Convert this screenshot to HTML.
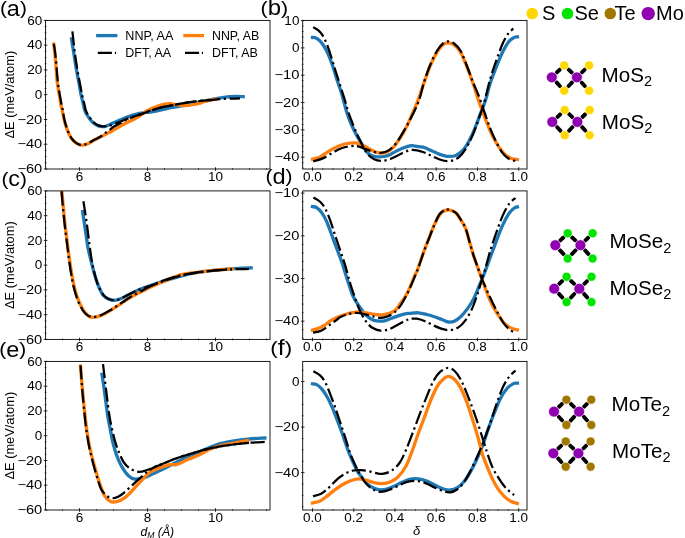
<!DOCTYPE html>
<html><head><meta charset="utf-8"><title>figure</title>
<style>html,body{margin:0;padding:0;background:#fff;}svg{display:block;will-change:transform;}text{font-family:"Liberation Sans", sans-serif;fill:#000;}</style>
</head><body>
<svg width="685" height="538" viewBox="0 0 685 538">
<rect width="685" height="538" fill="#fff"/>
<clipPath id="clip_a"><rect x="45.6" y="20.4" width="224.4" height="148.6"/></clipPath>
<clipPath id="clip_c"><rect x="45.6" y="190.9" width="224.4" height="148.5"/></clipPath>
<clipPath id="clip_e"><rect x="45.6" y="361.4" width="224.4" height="148.6"/></clipPath>
<clipPath id="clip_b"><rect x="302.7" y="20.4" width="224.3" height="148.6"/></clipPath>
<clipPath id="clip_d"><rect x="302.7" y="190.9" width="224.3" height="148.5"/></clipPath>
<clipPath id="clip_f"><rect x="302.7" y="361.4" width="224.3" height="148.6"/></clipPath>
<path d="M71.5 38.9C71.88 41.27 72.97 47.92 73.8 53.1C74.63 58.28 75.58 64.68 76.5 70C77.42 75.32 78.53 80.83 79.3 85C80.07 89.17 80.4 91.67 81.1 95C81.8 98.33 82.92 102.5 83.5 105C84.08 107.5 84.05 108.42 84.6 110C85.15 111.58 85.93 113.02 86.8 114.5C87.67 115.98 88.68 117.48 89.8 118.9C90.92 120.32 92.15 121.88 93.5 123C94.85 124.12 96.42 125 97.9 125.6C99.38 126.2 101.03 126.5 102.4 126.6C103.77 126.7 104.43 126.77 106.1 126.2C107.77 125.63 110.1 124.22 112.4 123.2C114.7 122.18 117.42 121.13 119.9 120.1C122.38 119.07 124.82 117.93 127.3 117C129.78 116.07 132.57 115.13 134.8 114.5C137.03 113.87 138.72 113.55 140.7 113.2C142.68 112.85 145.15 112.57 146.7 112.4C148.25 112.23 148.23 112.47 150 112.2C151.77 111.93 154.87 111.32 157.3 110.8C159.73 110.28 162.17 109.65 164.6 109.1C167.03 108.55 169.72 107.92 171.9 107.5C174.08 107.08 174.68 107.15 177.7 106.6C180.72 106.05 185.78 105.08 190 104.2C194.22 103.32 199.5 102.07 203 101.3C206.5 100.53 208.58 100.08 211 99.6C213.42 99.12 214.82 98.85 217.5 98.4C220.18 97.95 224.15 97.22 227.1 96.9C230.05 96.58 232.52 96.53 235.2 96.5C237.88 96.47 241.87 96.67 243.2 96.7" fill="none" stroke="#1f77b4" stroke-width="3.3" stroke-linecap="square" stroke-linejoin="round" clip-path="url(#clip_a)"/>
<path d="M53.8 44C53.97 45.52 54.45 49.6 54.8 53.1C55.15 56.6 55.62 61.35 55.9 65C56.18 68.65 56.22 71.67 56.5 75C56.78 78.33 57.13 81.67 57.6 85C58.07 88.33 58.73 91.67 59.3 95C59.87 98.33 60.52 102.5 61 105C61.48 107.5 61.68 107.55 62.2 110C62.72 112.45 63.42 116.85 64.1 119.7C64.78 122.55 65.5 124.75 66.3 127.1C67.1 129.45 67.97 131.82 68.9 133.8C69.83 135.78 70.78 137.52 71.9 139C73.02 140.48 74.23 141.7 75.6 142.7C76.97 143.7 78.73 144.62 80.1 145C81.47 145.38 82.43 145.25 83.8 145C85.17 144.75 86.82 144.18 88.3 143.5C89.78 142.82 91.22 141.72 92.7 140.9C94.18 140.08 95.7 139.35 97.2 138.6C98.7 137.85 100.4 137.07 101.7 136.4C103 135.73 103.22 135.55 105 134.6C106.78 133.65 109.92 132.08 112.4 130.7C114.88 129.32 117.42 127.67 119.9 126.3C122.38 124.93 124.82 123.75 127.3 122.5C129.78 121.25 132.57 120.03 134.8 118.8C137.03 117.57 138.72 116.4 140.7 115.1C142.68 113.8 145.15 111.97 146.7 111C148.25 110.03 148.23 110.1 150 109.3C151.77 108.5 154.87 107.08 157.3 106.2C159.73 105.32 162.42 104.42 164.6 104C166.78 103.58 168.45 103.6 170.4 103.7C172.35 103.8 174.35 104.3 176.3 104.6C178.25 104.9 180.15 105.38 182.1 105.5C184.05 105.62 186.05 105.47 188 105.3C189.95 105.13 191.8 104.87 193.8 104.5C195.8 104.13 198.47 103.53 200 103.1C201.53 102.67 201.15 102.43 203 101.9C204.85 101.37 209.02 100.35 211.1 99.9C213.18 99.45 214.77 99.32 215.5 99.2" fill="none" stroke="#ff7f0e" stroke-width="3.3" stroke-linecap="square" stroke-linejoin="round" clip-path="url(#clip_a)"/>
<path d="M72.4 31.3C72.82 34.93 74.07 46.65 74.9 53.1C75.73 59.55 76.52 64.68 77.4 70C78.28 75.32 79.42 80.83 80.2 85C80.98 89.17 81.37 91.67 82.1 95C82.83 98.33 84 102.5 84.6 105C85.2 107.5 85.12 108.33 85.7 110C86.28 111.67 86.92 113.08 88.1 115C89.28 116.92 91.17 119.78 92.8 121.5C94.43 123.22 96.3 124.5 97.9 125.3C99.5 126.1 101.03 126.18 102.4 126.3C103.77 126.42 104.67 126.18 106.1 126C107.53 125.82 108.7 125.9 111 125.2C113.3 124.5 117.18 122.87 119.9 121.8C122.62 120.73 124.82 119.77 127.3 118.8C129.78 117.83 132.57 116.75 134.8 116C137.03 115.25 138.72 114.95 140.7 114.3C142.68 113.65 145.15 112.68 146.7 112.1C148.25 111.52 148.23 111.38 150 110.8C151.77 110.22 154.87 109.3 157.3 108.6C159.73 107.9 162.17 107.15 164.6 106.6C167.03 106.05 169.47 105.75 171.9 105.3C174.33 104.85 176.77 104.35 179.2 103.9C181.63 103.45 184.07 103 186.5 102.6C188.93 102.2 191.05 101.87 193.8 101.5C196.55 101.13 200.12 100.67 203 100.4C205.88 100.13 208.42 100.1 211.1 99.9C213.78 99.7 216.43 99.4 219.1 99.2C221.77 99 224.55 98.8 227.1 98.7C229.65 98.6 232.25 98.67 234.4 98.6C236.55 98.53 239.07 98.35 240 98.3" fill="none" stroke="#000" stroke-width="2.25" stroke-dasharray="14.2 3.56 2.22 3.56" stroke-linejoin="round" clip-path="url(#clip_a)"/>
<path d="M53.8 43.8C54.03 45.35 54.77 49.57 55.2 53.1C55.63 56.63 56.07 61.35 56.4 65C56.73 68.65 56.9 71.67 57.2 75C57.5 78.33 57.77 81.67 58.2 85C58.63 88.33 59.23 91.67 59.8 95C60.37 98.33 61.12 102.5 61.6 105C62.08 107.5 62.23 107.55 62.7 110C63.17 112.45 63.77 116.85 64.4 119.7C65.03 122.55 65.72 124.75 66.5 127.1C67.28 129.45 68.17 131.82 69.1 133.8C70.03 135.78 70.98 137.52 72.1 139C73.22 140.48 74.47 141.73 75.8 142.7C77.13 143.67 78.77 144.45 80.1 144.8C81.43 145.15 82.43 145.05 83.8 144.8C85.17 144.55 86.82 143.98 88.3 143.3C89.78 142.62 91.22 141.52 92.7 140.7C94.18 139.88 95.7 139.23 97.2 138.4C98.7 137.57 100.22 136.72 101.7 135.7C103.18 134.68 104.72 133.3 106.1 132.3C107.48 131.3 108.68 130.67 110 129.7C111.32 128.73 112.35 127.57 114 126.5C115.65 125.43 117.68 124.5 119.9 123.3C122.12 122.1 124.82 120.47 127.3 119.3C129.78 118.13 132.57 117.12 134.8 116.3C137.03 115.48 138.72 115.1 140.7 114.4C142.68 113.7 145.15 112.7 146.7 112.1C148.25 111.5 148.23 111.38 150 110.8C151.77 110.22 154.87 109.3 157.3 108.6C159.73 107.9 162.17 107.15 164.6 106.6C167.03 106.05 169.47 105.75 171.9 105.3C174.33 104.85 176.77 104.35 179.2 103.9C181.63 103.45 184.07 102.98 186.5 102.6C188.93 102.22 191.55 101.87 193.8 101.6C196.05 101.33 198.13 101.18 200 101C201.87 100.82 203 100.67 205 100.5C207 100.33 210.83 100.08 212 100" fill="none" stroke="#000" stroke-width="2.25" stroke-dasharray="14.2 3.56 2.22 3.56" stroke-linejoin="round" clip-path="url(#clip_a)"/>
<path d="M312.5 37.5C312.98 37.55 314.17 37.25 315.4 37.8C316.63 38.35 318.42 39.32 319.9 40.8C321.38 42.28 322.82 44.23 324.3 46.7C325.78 49.17 327.32 52.13 328.8 55.6C330.28 59.07 331.85 63.53 333.2 67.5C334.55 71.47 335.53 75.18 336.9 79.4C338.27 83.62 339.73 87.25 341.4 92.8C343.07 98.35 345.17 107.25 346.9 112.7C348.63 118.15 350.18 121.77 351.8 125.5C353.42 129.23 355 132.15 356.6 135.1C358.2 138.05 359.8 140.52 361.4 143.2C363 145.88 364.6 149.2 366.2 151.2C367.8 153.2 369.13 154.27 371 155.2C372.87 156.13 375.25 156.58 377.4 156.8C379.55 157.02 381.75 156.9 383.9 156.5C386.05 156.1 388.17 155.33 390.3 154.4C392.43 153.47 394.57 151.97 396.7 150.9C398.83 149.83 400.68 148.88 403.1 148C405.52 147.12 409.22 145.92 411.2 145.6C413.18 145.28 413.03 145.83 415 146.1C416.97 146.37 420.32 146.48 423 147.2C425.68 147.92 428.42 149.25 431.1 150.4C433.78 151.55 436.43 153.12 439.1 154.1C441.77 155.08 444.43 156.03 447.1 156.3C449.77 156.57 452.68 156.5 455.1 155.7C457.52 154.9 459.72 153.18 461.6 151.5C463.48 149.82 464.8 148.05 466.4 145.6C468 143.15 469.6 140.15 471.2 136.8C472.8 133.45 474.4 129.52 476 125.5C477.6 121.48 479.18 116.98 480.8 112.7C482.42 108.42 484.15 104.67 485.7 99.8C487.25 94.93 488.32 89.03 490.1 83.5C491.88 77.97 494.28 71.88 496.4 66.6C498.52 61.32 500.68 56.03 502.8 51.8C504.92 47.57 507.17 43.6 509.1 41.2C511.03 38.8 513.02 38.12 514.4 37.4C515.78 36.68 516.9 36.98 517.4 36.9" fill="none" stroke="#1f77b4" stroke-width="3.3" stroke-linecap="square" stroke-linejoin="round" clip-path="url(#clip_b)"/>
<path d="M312.5 159.2C313.68 158.87 316.8 158.58 319.6 157.2C322.4 155.82 326.08 152.77 329.3 150.9C332.52 149.03 335.97 147.23 338.9 146C341.83 144.77 344.22 144.02 346.9 143.5C349.58 142.98 352.58 142.73 355 142.9C357.42 143.07 359.27 143.65 361.4 144.5C363.53 145.35 365.67 146.83 367.8 148C369.93 149.17 372.05 150.65 374.2 151.5C376.35 152.35 378.55 153.02 380.7 153.1C382.85 153.18 384.97 152.98 387.1 152C389.23 151.02 391.37 149.47 393.5 147.2C395.63 144.93 397.75 141.75 399.9 138.4C402.05 135.05 404.25 131.38 406.4 127.1C408.55 122.82 410.85 117.22 412.8 112.7C414.75 108.18 416.15 105.22 418.1 100C420.05 94.78 422.38 87.32 424.5 81.4C426.62 75.48 428.68 69.43 430.8 64.5C432.92 59.57 435.08 55.17 437.2 51.8C439.32 48.43 441.57 45.78 443.5 44.3C445.43 42.82 447.03 42.78 448.8 42.9C450.57 43.02 452.17 43.52 454.1 45C456.03 46.48 458.28 48.2 460.4 51.8C462.52 55.4 464.68 61.32 466.8 66.6C468.92 71.88 471.17 77.93 473.1 83.5C475.03 89.07 476.85 95.4 478.4 100C479.95 104.6 480.92 107.12 482.4 111.1C483.88 115.08 485.68 119.9 487.3 123.9C488.92 127.9 490.23 131.35 492.1 135.1C493.97 138.85 496.37 143.18 498.5 146.4C500.63 149.62 502.75 152.4 504.9 154.4C507.05 156.4 509.32 157.53 511.4 158.4C513.48 159.27 516.4 159.4 517.4 159.6" fill="none" stroke="#ff7f0e" stroke-width="3.3" stroke-linecap="square" stroke-linejoin="round" clip-path="url(#clip_b)"/>
<path d="M313.2 27.1C314.07 27.65 316.8 28.98 318.4 30.4C320 31.82 321.32 33.13 322.8 35.6C324.28 38.07 325.82 41.37 327.3 45.2C328.78 49.03 330.35 54.38 331.7 58.6C333.05 62.82 334.15 66.53 335.4 70.5C336.65 74.47 337.63 77.5 339.2 82.4C340.77 87.3 343.25 94.85 344.8 99.9C346.35 104.95 347.07 108.43 348.5 112.7C349.93 116.97 351.78 121.48 353.4 125.5C355.02 129.52 356.6 133.32 358.2 136.8C359.8 140.28 361.4 143.47 363 146.4C364.6 149.33 365.93 152.27 367.8 154.4C369.67 156.53 372.05 158.13 374.2 159.2C376.35 160.27 378.28 160.73 380.7 160.8C383.12 160.87 386.03 160.4 388.7 159.6C391.37 158.8 394.03 157.27 396.7 156C399.37 154.73 402.02 153.02 404.7 152C407.38 150.98 409.75 149.9 412.8 149.9C415.85 149.9 419.95 151.03 423 152C426.05 152.97 428.42 154.5 431.1 155.7C433.78 156.9 436.43 158.28 439.1 159.2C441.77 160.12 444.43 161.13 447.1 161.2C449.77 161.27 452.68 160.73 455.1 159.6C457.52 158.47 459.45 156.87 461.6 154.4C463.75 151.93 465.87 148.68 468 144.8C470.13 140.92 472.53 135.65 474.4 131.1C476.27 126.55 477.58 122.18 479.2 117.5C480.82 112.82 482.28 109.37 484.1 103C485.92 96.63 488.05 86.43 490.1 79.3C492.15 72.17 494.28 66.2 496.4 60.2C498.52 54.2 500.85 47.7 502.8 43.3C504.75 38.9 506.33 36.27 508.1 33.8C509.87 31.33 512.52 29.38 513.4 28.5" fill="none" stroke="#000" stroke-width="2.25" stroke-dasharray="14.2 3.56 2.22 3.56" stroke-linejoin="round" clip-path="url(#clip_b)"/>
<path d="M313.2 161.3C314.8 160.82 319.58 159.82 322.8 158.4C326.02 156.98 329.28 154.53 332.5 152.8C335.72 151.07 338.88 149.12 342.1 148C345.32 146.88 349.12 146.37 351.8 146.1C354.48 145.83 355.8 145.87 358.2 146.4C360.6 146.93 363.53 148.37 366.2 149.3C368.87 150.23 371.78 151.42 374.2 152C376.62 152.58 378.28 153.07 380.7 152.8C383.12 152.53 386.03 152.13 388.7 150.4C391.37 148.67 394.03 145.88 396.7 142.4C399.37 138.92 402.02 134.18 404.7 129.5C407.38 124.82 410.38 119.25 412.8 114.3C415.22 109.35 417.25 105.43 419.2 99.8C421.15 94.17 422.57 86.55 424.5 80.5C426.43 74.45 428.68 68.5 430.8 63.5C432.92 58.5 435.08 53.92 437.2 50.5C439.32 47.08 441.57 44.52 443.5 43C445.43 41.48 447.03 41.32 448.8 41.4C450.57 41.48 452.17 41.98 454.1 43.5C456.03 45.02 458.28 46.83 460.4 50.5C462.52 54.17 464.68 60.17 466.8 65.5C468.92 70.83 471.17 77.58 473.1 82.5C475.03 87.42 476.57 90.23 478.4 95C480.23 99.77 482.22 105.75 484.1 111.1C485.98 116.45 487.83 122.28 489.7 127.1C491.57 131.92 493.3 135.88 495.3 140C497.3 144.12 499.57 148.75 501.7 151.8C503.83 154.85 505.68 156.73 508.1 158.3C510.52 159.87 514.85 160.72 516.2 161.2" fill="none" stroke="#000" stroke-width="2.25" stroke-dasharray="14.2 3.56 2.22 3.56" stroke-linejoin="round" clip-path="url(#clip_b)"/>
<path d="M82.6 211.7C82.97 214.07 84.15 221.52 84.8 225.9C85.45 230.28 85.97 234.32 86.5 238C87.03 241.68 87.32 244.5 88 248C88.68 251.5 89.52 254.63 90.6 259C91.68 263.37 93.18 269.7 94.5 274.2C95.82 278.7 97.05 282.5 98.5 286C99.95 289.5 101.45 292.98 103.2 295.2C104.95 297.42 107.05 298.43 109 299.3C110.95 300.17 112.95 300.5 114.9 300.4C116.85 300.3 118.57 299.57 120.7 298.7C122.83 297.83 125.37 296.37 127.7 295.2C130.03 294.03 132.65 292.68 134.7 291.7C136.75 290.72 136.78 290.52 140 289.3C143.22 288.08 148.5 286.22 154 284.4C159.5 282.58 166.67 280.22 173 278.4C179.33 276.58 185.68 274.8 192 273.5C198.32 272.2 204.58 271.35 210.9 270.6C217.22 269.85 224.88 269.4 229.9 269C234.92 268.6 237.47 268.4 241 268.2C244.53 268 249.42 267.87 251.1 267.8" fill="none" stroke="#1f77b4" stroke-width="3.3" stroke-linecap="square" stroke-linejoin="round" clip-path="url(#clip_c)"/>
<path d="M61.9 191.4C62.35 196.23 63.65 211.47 64.6 220.4C65.55 229.33 66.72 237.98 67.6 245C68.48 252.02 69.03 256.67 69.9 262.5C70.77 268.33 71.92 275.33 72.8 280C73.68 284.67 74.22 287 75.2 290.5C76.18 294 77.33 297.68 78.7 301C80.07 304.32 81.85 307.97 83.4 310.4C84.95 312.83 86.45 314.43 88 315.6C89.55 316.77 90.95 317.27 92.7 317.4C94.45 317.53 96.55 316.98 98.5 316.4C100.45 315.82 102.45 314.87 104.4 313.9C106.35 312.93 108.25 311.77 110.2 310.6C112.15 309.43 113.95 308.3 116.1 306.9C118.25 305.5 120.77 303.77 123.1 302.2C125.43 300.63 127.28 299.15 130.1 297.5C132.92 295.85 136.02 294.3 140 292.3C143.98 290.3 149.5 287.55 154 285.5C158.5 283.45 162.58 281.77 167 280C171.42 278.23 176.33 276.07 180.5 274.9C184.67 273.73 186.93 273.72 192 273C197.07 272.28 204.22 271.3 210.9 270.6C217.58 269.9 228.57 269.1 232.1 268.8" fill="none" stroke="#ff7f0e" stroke-width="3.3" stroke-linecap="square" stroke-linejoin="round" clip-path="url(#clip_c)"/>
<path d="M83.4 201.3C83.73 203.42 84.78 209.9 85.4 214C86.02 218.1 86.58 222.07 87.1 225.9C87.62 229.73 88.03 233.32 88.5 237C88.97 240.68 89.25 243.5 89.9 248C90.55 252.5 91.38 258.83 92.4 264C93.42 269.17 94.82 274.92 96 279C97.18 283.08 98.17 285.75 99.5 288.5C100.83 291.25 102.33 293.7 104 295.5C105.67 297.3 107.6 298.52 109.5 299.3C111.4 300.08 113.48 300.33 115.4 300.2C117.32 300.07 118.95 299.37 121 298.5C123.05 297.63 125.42 296.17 127.7 295C129.98 293.83 132.65 292.45 134.7 291.5C136.75 290.55 136.78 290.45 140 289.3C143.22 288.15 148.5 286.52 154 284.6C159.5 282.68 166.67 279.68 173 277.8C179.33 275.92 185.68 274.47 192 273.3C198.32 272.13 204.58 271.45 210.9 270.8C217.22 270.15 223.57 269.7 229.9 269.4C236.23 269.1 245.73 269.07 248.9 269" fill="none" stroke="#000" stroke-width="2.25" stroke-dasharray="14.2 3.56 2.22 3.56" stroke-linejoin="round" clip-path="url(#clip_c)"/>
<path d="M61.5 191.4C61.95 196.23 63.25 211.47 64.2 220.4C65.15 229.33 66.33 237.98 67.2 245C68.07 252.02 68.57 256.67 69.4 262.5C70.23 268.33 71.33 275.33 72.2 280C73.07 284.67 73.63 287 74.6 290.5C75.57 294 76.63 297.68 78 301C79.37 304.32 81.2 308 82.8 310.4C84.4 312.8 85.95 314.3 87.6 315.4C89.25 316.5 90.88 316.9 92.7 317C94.52 317.1 96.55 316.58 98.5 316C100.45 315.42 102.45 314.47 104.4 313.5C106.35 312.53 108.25 311.37 110.2 310.2C112.15 309.03 113.95 307.88 116.1 306.5C118.25 305.12 120.77 303.45 123.1 301.9C125.43 300.35 127.28 298.88 130.1 297.2C132.92 295.52 136.02 293.93 140 291.8C143.98 289.67 148.5 286.82 154 284.4C159.5 281.98 166.67 279.15 173 277.3C179.33 275.45 185.68 274.38 192 273.3C198.32 272.22 204.57 271.48 210.9 270.8C217.23 270.12 226.82 269.47 230 269.2" fill="none" stroke="#000" stroke-width="2.25" stroke-dasharray="14.2 3.56 2.22 3.56" stroke-linejoin="round" clip-path="url(#clip_c)"/>
<path d="M312.5 206.7C313.2 206.85 315.17 206.62 316.7 207.6C318.23 208.58 320.02 210.23 321.7 212.6C323.38 214.97 325.12 218.03 326.8 221.8C328.48 225.57 330.13 230.73 331.8 235.2C333.47 239.67 335.13 244.13 336.8 248.6C338.47 253.07 340.55 258.43 341.8 262C343.05 265.57 343.2 266.53 344.3 270C345.4 273.47 346.92 278.38 348.4 282.8C349.88 287.22 351.33 292.48 353.2 296.5C355.07 300.52 357.47 303.82 359.6 306.9C361.73 309.98 363.87 312.85 366 315C368.13 317.15 370.25 318.78 372.4 319.8C374.55 320.82 376.75 320.97 378.9 321.1C381.05 321.23 383.17 321.08 385.3 320.6C387.43 320.12 389.57 319 391.7 318.2C393.83 317.4 395.68 316.55 398.1 315.8C400.52 315.05 404.22 314.1 406.2 313.7C408.18 313.3 407.97 313.55 410 313.4C412.03 313.25 415.6 312.62 418.4 312.8C421.2 312.98 424 313.8 426.8 314.5C429.6 315.2 432.68 316.17 435.2 317C437.72 317.83 439.67 318.67 441.9 319.5C444.13 320.33 446.37 321.8 448.6 322C450.83 322.2 453.07 321.82 455.3 320.7C457.53 319.58 459.75 317.6 462 315.3C464.25 313 466.83 309.7 468.8 306.9C470.77 304.1 472.13 301.85 473.8 298.5C475.47 295.15 477.12 290.8 478.8 286.8C480.48 282.8 482.02 279.35 483.9 274.5C485.78 269.65 488.02 263.32 490.1 257.7C492.18 252.08 494.28 246.27 496.4 240.8C498.52 235.33 500.68 229.48 502.8 224.9C504.92 220.32 507.17 216.12 509.1 213.3C511.03 210.48 513.02 209.07 514.4 208C515.78 206.93 516.9 207.08 517.4 206.9" fill="none" stroke="#1f77b4" stroke-width="3.3" stroke-linecap="square" stroke-linejoin="round" clip-path="url(#clip_d)"/>
<path d="M312.5 330.2C313.38 329.93 315.83 329.4 317.8 328.6C319.77 327.8 322.15 326.73 324.3 325.4C326.45 324.07 328.57 321.93 330.7 320.6C332.83 319.27 335.55 318.13 337.1 317.4C338.65 316.67 338.05 316.88 340 316.2C341.95 315.52 345.88 314.03 348.8 313.3C351.72 312.57 354.58 311.85 357.5 311.8C360.42 311.75 363.38 312.58 366.3 313C369.22 313.42 372.38 313.97 375 314.3C377.62 314.63 379.67 315.15 382 315C384.33 314.85 386.8 314.18 389 313.4C391.2 312.62 393.3 311.95 395.2 310.3C397.1 308.65 398.67 305.88 400.4 303.5C402.13 301.12 404 298.73 405.6 296C407.2 293.27 408.52 290.45 410 287.1C411.48 283.75 413.25 278.75 414.5 275.9C415.75 273.05 415.98 273.97 417.5 270C419.02 266.03 421.48 257.93 423.6 252.1C425.72 246.27 428.38 239.6 430.2 235C432.02 230.4 432.98 227.77 434.5 224.5C436.02 221.23 437.83 217.6 439.3 215.4C440.77 213.2 441.93 212.2 443.3 211.3C444.67 210.4 446.22 210.15 447.5 210C448.78 209.85 449.55 209.85 451 210.4C452.45 210.95 454.7 211.95 456.2 213.3C457.7 214.65 458.43 216 460 218.5C461.57 221 464.02 224.43 465.6 228.3C467.18 232.17 468.2 237.23 469.5 241.7C470.8 246.17 472.1 251.02 473.4 255.1C474.7 259.18 475.92 262.3 477.3 266.2C478.68 270.1 480.05 273.95 481.7 278.5C483.35 283.05 485.43 289.03 487.2 293.5C488.97 297.97 490.62 301.95 492.3 305.3C493.98 308.65 495.35 310.67 497.3 313.6C499.25 316.53 501.77 320.52 504 322.9C506.23 325.28 508.47 326.75 510.7 327.9C512.93 329.05 516.28 329.48 517.4 329.8" fill="none" stroke="#ff7f0e" stroke-width="3.3" stroke-linecap="square" stroke-linejoin="round" clip-path="url(#clip_d)"/>
<path d="M313.4 197.5C314.52 198.2 318.15 199.88 320.1 201.7C322.05 203.52 323.43 205.33 325.1 208.4C326.77 211.47 328.43 215.63 330.1 220.1C331.77 224.57 333.42 230.17 335.1 235.2C336.78 240.23 338.52 245.27 340.2 250.3C341.88 255.33 343.57 259.98 345.2 265.4C346.83 270.82 348.4 277.48 350 282.8C351.6 288.12 353.2 292.75 354.8 297.3C356.4 301.85 357.73 306.08 359.6 310.1C361.47 314.12 363.87 318.45 366 321.4C368.13 324.35 369.98 326.25 372.4 327.8C374.82 329.35 377.82 330.43 380.5 330.7C383.18 330.97 385.83 330.28 388.5 329.4C391.17 328.52 393.82 326.78 396.5 325.4C399.18 324.02 402.35 322.17 404.6 321.1C406.85 320.03 407.98 319.4 410 319C412.02 318.6 414.18 318.33 416.7 318.7C419.22 319.07 422.3 320.08 425.1 321.2C427.9 322.32 430.7 324.13 433.5 325.4C436.3 326.67 439.1 328.02 441.9 328.8C444.7 329.58 447.5 330.38 450.3 330.1C453.1 329.82 456.18 328.72 458.7 327.1C461.22 325.48 463.17 323.48 465.4 320.4C467.63 317.32 470.15 312.8 472.1 308.6C474.05 304.4 475.42 300.23 477.1 295.2C478.78 290.17 480.8 282.93 482.2 278.4C483.6 273.87 484.18 272.5 485.5 268C486.82 263.5 488.28 257.35 490.1 251.4C491.92 245.45 494.28 238.3 496.4 232.3C498.52 226.3 500.68 220.15 502.8 215.4C504.92 210.65 506.98 206.7 509.1 203.8C511.22 200.9 514.43 198.97 515.5 198" fill="none" stroke="#000" stroke-width="2.25" stroke-dasharray="14.2 3.56 2.22 3.56" stroke-linejoin="round" clip-path="url(#clip_d)"/>
<path d="M313 332.6C314.35 332.28 318.42 331.9 321.1 330.7C323.78 329.5 326.43 327.27 329.1 325.4C331.77 323.53 335.28 320.85 337.1 319.5C338.92 318.15 338.05 318.25 340 317.3C341.95 316.35 345.88 314.52 348.8 313.8C351.72 313.08 354.58 312.85 357.5 313C360.42 313.15 363.38 314.05 366.3 314.7C369.22 315.35 372.52 316.38 375 316.9C377.48 317.42 379.15 317.87 381.2 317.8C383.25 317.73 385.12 317.38 387.3 316.5C389.48 315.62 392.18 314.18 394.3 312.5C396.42 310.82 398.17 308.9 400 306.4C401.83 303.9 403.63 300.57 405.3 297.5C406.97 294.43 407.97 292.58 410 288C412.03 283.42 415.23 275.92 417.5 270C419.77 264.08 421.48 258.28 423.6 252.5C425.72 246.72 428.38 239.97 430.2 235.3C432.02 230.63 432.98 227.97 434.5 224.5C436.02 221.03 437.63 216.92 439.3 214.5C440.97 212.08 443.1 210.83 444.5 210C445.9 209.17 446.45 209.42 447.7 209.5C448.95 209.58 450.58 209.92 452 210.5C453.42 211.08 454.87 211.7 456.2 213C457.53 214.3 458.43 215.75 460 218.3C461.57 220.85 464.02 224.4 465.6 228.3C467.18 232.2 468.2 237.23 469.5 241.7C470.8 246.17 472.1 251.02 473.4 255.1C474.7 259.18 475.92 262.3 477.3 266.2C478.68 270.1 480.6 275.63 481.7 278.5C482.8 281.37 482.42 280.07 483.9 283.4C485.38 286.73 488.37 293.73 490.6 298.5C492.83 303.27 495.07 307.8 497.3 312C499.53 316.2 501.77 320.63 504 323.7C506.23 326.77 508.73 328.95 510.7 330.4C512.67 331.85 514.95 332.07 515.8 332.4" fill="none" stroke="#000" stroke-width="2.25" stroke-dasharray="14.2 3.56 2.22 3.56" stroke-linejoin="round" clip-path="url(#clip_d)"/>
<path d="M102 374.4C102.42 377.25 103.57 384.73 104.5 391.5C105.43 398.27 106.67 408.85 107.6 415C108.53 421.15 109.12 423.38 110.1 428.4C111.08 433.42 112.1 439.8 113.5 445.1C114.9 450.4 116.55 455.73 118.5 460.2C120.45 464.67 122.97 468.88 125.2 471.9C127.43 474.92 129.67 477.13 131.9 478.3C134.13 479.47 136.1 479.18 138.6 478.9C141.1 478.62 144.12 477.63 146.9 476.6C149.68 475.57 153.03 473.75 155.3 472.7C157.57 471.65 157.88 471.58 160.5 470.3C163.12 469.02 166.92 467.05 171 465C175.08 462.95 180.33 460.18 185 458C189.67 455.82 194.9 453.65 199 451.9C203.1 450.15 206.08 448.87 209.6 447.5C213.12 446.13 216.02 444.8 220.1 443.7C224.18 442.6 229.43 441.67 234.1 440.9C238.77 440.13 242.97 439.58 248.1 439.1C253.23 438.62 262.1 438.18 264.9 438" fill="none" stroke="#1f77b4" stroke-width="3.3" stroke-linecap="square" stroke-linejoin="round" clip-path="url(#clip_e)"/>
<path d="M80.5 366C80.85 370.25 81.85 383.33 82.6 391.5C83.35 399.67 84.27 408.3 85 415C85.73 421.7 86.17 426.12 87 431.7C87.83 437.28 88.8 442.92 90 448.5C91.2 454.08 92.67 459.63 94.2 465.2C95.73 470.77 97.52 476.88 99.2 481.9C100.88 486.92 102.48 492.08 104.3 495.3C106.12 498.52 108.02 500.13 110.1 501.2C112.18 502.27 114.57 502.12 116.8 501.7C119.03 501.28 121.27 500.18 123.5 498.7C125.73 497.22 127.97 495.03 130.2 492.8C132.43 490.57 134.67 487.72 136.9 485.3C139.13 482.88 141.42 480.47 143.6 478.3C145.78 476.13 148.02 473.77 150 472.3C151.98 470.83 153.67 470.32 155.5 469.5C157.33 468.68 159.33 468.02 161 467.4C162.67 466.78 163.93 466.27 165.5 465.8C167.07 465.33 168.65 464.8 170.4 464.6C172.15 464.4 173.93 465.05 176 464.6C178.07 464.15 181.13 462.63 182.8 461.9C184.47 461.17 184.78 460.75 186 460.2C187.22 459.65 188.6 459.2 190.1 458.6C191.6 458 193.35 457.27 195 456.6C196.65 455.93 197.57 455.82 200 454.6C202.43 453.38 206.25 450.77 209.6 449.3C212.95 447.83 216.02 446.83 220.1 445.8C224.18 444.77 229.55 443.97 234.1 443.1C238.65 442.23 245.18 441.02 247.4 440.6" fill="none" stroke="#ff7f0e" stroke-width="3.3" stroke-linecap="square" stroke-linejoin="round" clip-path="url(#clip_e)"/>
<path d="M103 364.1C103.55 368.67 105.25 383.02 106.3 391.5C107.35 399.98 108.25 408.3 109.3 415C110.35 421.7 111.35 426.4 112.6 431.7C113.85 437 114.98 441.77 116.8 446.8C118.62 451.83 121.27 458.27 123.5 461.9C125.73 465.53 127.68 466.93 130.2 468.6C132.72 470.27 135.82 471.63 138.6 471.9C141.38 472.17 144.52 470.9 146.9 470.2C149.28 469.5 150.97 468.5 152.9 467.7C154.83 466.9 156.55 466.18 158.5 465.4C160.45 464.62 162.68 463.77 164.6 463C166.52 462.23 168.18 461.53 170 460.8C171.82 460.07 173.67 459.28 175.5 458.6C177.33 457.92 179.17 457.3 181 456.7C182.83 456.1 184.37 455.65 186.5 455C188.63 454.35 191.55 453.47 193.8 452.8C196.05 452.13 197.97 451.57 200 451C202.03 450.43 203.82 449.95 206 449.4C208.18 448.85 210.17 448.3 213.1 447.7C216.03 447.1 219.52 446.42 223.6 445.8C227.68 445.18 232.93 444.53 237.6 444C242.27 443.47 247.07 442.95 251.6 442.6C256.13 442.25 262.6 442.02 264.8 441.9" fill="none" stroke="#000" stroke-width="2.25" stroke-dasharray="14.2 3.56 2.22 3.56" stroke-linejoin="round" clip-path="url(#clip_e)"/>
<path d="M80.5 365.3C80.82 369.67 81.72 383.22 82.4 391.5C83.08 399.78 83.9 408.3 84.6 415C85.3 421.7 85.78 426.12 86.6 431.7C87.42 437.28 88.33 442.92 89.5 448.5C90.67 454.08 92.13 459.7 93.6 465.2C95.07 470.7 96.93 477.32 98.3 481.5C99.67 485.68 100.1 487.72 101.8 490.3C103.5 492.88 106.28 495.75 108.5 497C110.72 498.25 112.88 498.22 115.1 497.8C117.32 497.38 119.28 496.3 121.8 494.5C124.32 492.7 127.4 489.52 130.2 487C133 484.48 135.82 481.87 138.6 479.4C141.38 476.93 144.52 474.1 146.9 472.2C149.28 470.3 150.97 469.12 152.9 468C154.83 466.88 156.55 466.33 158.5 465.5C160.45 464.67 162.68 463.78 164.6 463C166.52 462.22 168.18 461.53 170 460.8C171.82 460.07 173.67 459.28 175.5 458.6C177.33 457.92 179.17 457.3 181 456.7C182.83 456.1 184.37 455.65 186.5 455C188.63 454.35 191.55 453.47 193.8 452.8C196.05 452.13 197.97 451.57 200 451C202.03 450.43 203.82 449.95 206 449.4C208.18 448.85 210.17 448.3 213.1 447.7C216.03 447.1 219.52 446.42 223.6 445.8C227.68 445.18 233.37 444.5 237.6 444C241.83 443.5 247.1 443 249 442.8" fill="none" stroke="#000" stroke-width="2.25" stroke-dasharray="14.2 3.56 2.22 3.56" stroke-linejoin="round" clip-path="url(#clip_e)"/>
<path d="M312.5 383.8C313.2 383.93 315.17 383.77 316.7 384.6C318.23 385.43 320.02 386.85 321.7 388.8C323.38 390.75 325.12 393.37 326.8 396.3C328.48 399.23 330.13 402.63 331.8 406.4C333.47 410.17 335.13 414.58 336.8 418.9C338.47 423.22 339.87 426.92 341.8 432.3C343.73 437.68 346.5 446.17 348.4 451.2C350.3 456.23 351.6 459.02 353.2 462.5C354.8 465.98 356.4 469.43 358 472.1C359.6 474.77 361.2 476.48 362.8 478.5C364.4 480.52 365.72 482.58 367.6 484.2C369.48 485.82 371.95 487.27 374.1 488.2C376.25 489.13 378.37 489.67 380.5 489.8C382.63 489.93 384.77 489.53 386.9 489C389.03 488.47 390.88 487.67 393.3 486.6C395.72 485.53 398.72 483.82 401.4 482.6C404.08 481.38 406.57 479.92 409.4 479.3C412.23 478.68 415.5 478.6 418.4 478.9C421.3 479.2 424 480.03 426.8 481.1C429.6 482.17 432.4 483.98 435.2 485.3C438 486.62 441.08 488.22 443.6 489C446.12 489.78 448.07 490.2 450.3 490C452.53 489.8 454.77 489.13 457 487.8C459.23 486.47 461.47 484.65 463.7 482C465.93 479.35 468.17 475.82 470.4 471.9C472.63 467.98 475.13 462.7 477.1 458.5C479.07 454.3 480.38 451.5 482.2 446.7C484.02 441.9 485.98 435.35 488 429.7C490.02 424.05 492.18 418.08 494.3 412.8C496.42 407.52 498.58 402.05 500.7 398C502.82 393.95 504.88 390.9 507 388.5C509.12 386.1 511.67 384.48 513.4 383.6C515.13 382.72 516.73 383.27 517.4 383.2" fill="none" stroke="#1f77b4" stroke-width="3.3" stroke-linecap="square" stroke-linejoin="round" clip-path="url(#clip_f)"/>
<path d="M312.5 503C313.67 502.72 317.27 502.3 319.5 501.3C321.73 500.3 323.5 498.78 325.9 497C328.3 495.22 331.23 492.6 333.9 490.6C336.57 488.6 339.22 486.6 341.9 485C344.58 483.4 347.32 482.02 350 481C352.68 479.98 355.33 479.05 358 478.9C360.67 478.75 363.32 479.48 366 480.1C368.68 480.72 371.42 482 374.1 482.6C376.78 483.2 379.43 483.78 382.1 483.7C384.77 483.62 387.43 483.23 390.1 482.1C392.77 480.97 395.42 479.63 398.1 476.9C400.78 474.17 403.92 469.85 406.2 465.7C408.48 461.55 409.82 457.28 411.8 452C413.78 446.72 415.98 439.83 418.1 434C420.22 428.17 422.38 422.65 424.5 417C426.62 411.35 428.68 405.22 430.8 400.1C432.92 394.98 435.08 389.83 437.2 386.3C439.32 382.77 441.67 380.55 443.5 378.9C445.33 377.25 446.43 376.4 448.2 376.4C449.97 376.4 452.07 377.07 454.1 378.9C456.13 380.73 458.28 383.52 460.4 387.4C462.52 391.28 464.68 396.55 466.8 402.2C468.92 407.85 471.23 415.42 473.1 421.3C474.97 427.18 476.48 432.15 478 437.5C479.52 442.85 480.67 448.5 482.2 453.4C483.73 458.3 485.52 462.7 487.2 466.9C488.88 471.1 490.62 475.12 492.3 478.6C493.98 482.08 495.35 484.87 497.3 487.8C499.25 490.73 501.77 493.95 504 496.2C506.23 498.45 508.47 500.08 510.7 501.3C512.93 502.52 516.28 503.13 517.4 503.5" fill="none" stroke="#ff7f0e" stroke-width="3.3" stroke-linecap="square" stroke-linejoin="round" clip-path="url(#clip_f)"/>
<path d="M313.4 371.2C314.52 371.9 318.15 373.58 320.1 375.4C322.05 377.22 323.43 379.03 325.1 382.1C326.77 385.17 328.43 389.62 330.1 393.8C331.77 397.98 333.42 402.45 335.1 407.2C336.78 411.95 338.52 417.27 340.2 422.3C341.88 427.33 343.57 432.32 345.2 437.4C346.83 442.48 348.4 448.35 350 452.8C351.6 457.25 353.2 460.62 354.8 464.1C356.4 467.58 357.73 470.48 359.6 473.7C361.47 476.92 363.87 480.85 366 483.4C368.13 485.95 370.25 487.62 372.4 489C374.55 490.38 376.75 491.35 378.9 491.7C381.05 492.05 382.9 491.68 385.3 491.1C387.7 490.52 390.62 489.35 393.3 488.2C395.98 487.05 398.72 485.33 401.4 484.2C404.08 483.07 406.57 481.92 409.4 481.4C412.23 480.88 415.5 480.73 418.4 481.1C421.3 481.47 424 482.48 426.8 483.6C429.6 484.72 432.4 486.53 435.2 487.8C438 489.07 441.08 490.43 443.6 491.2C446.12 491.97 448.07 492.68 450.3 492.4C452.53 492.12 454.77 491.1 457 489.5C459.23 487.9 461.47 485.87 463.7 482.8C465.93 479.73 468.17 475.43 470.4 471.1C472.63 466.77 475.13 461.15 477.1 456.8C479.07 452.45 480.03 450.57 482.2 445C484.37 439.43 487.73 430.18 490.1 423.4C492.47 416.62 494.28 410.3 496.4 404.3C498.52 398.3 500.68 391.98 502.8 387.4C504.92 382.82 506.98 379.62 509.1 376.8C511.22 373.98 514.43 371.55 515.5 370.5" fill="none" stroke="#000" stroke-width="2.25" stroke-dasharray="14.2 3.56 2.22 3.56" stroke-linejoin="round" clip-path="url(#clip_f)"/>
<path d="M313 496.2C314.35 495.8 318.42 495.27 321.1 493.8C323.78 492.33 326.43 489.82 329.1 487.4C331.77 484.98 334.43 481.58 337.1 479.3C339.77 477.02 342.42 475.17 345.1 473.7C347.78 472.23 350.52 471.08 353.2 470.5C355.88 469.92 358.53 470.07 361.2 470.2C363.87 470.33 366.52 470.77 369.2 471.3C371.88 471.83 374.88 473 377.3 473.4C379.72 473.8 381.3 474.18 383.7 473.7C386.1 473.22 389.02 472.37 391.7 470.5C394.38 468.63 397.33 466.12 399.8 462.5C402.27 458.88 404.15 454.27 406.5 448.8C408.85 443.33 411.62 435.7 413.9 429.7C416.18 423.7 418.08 418.27 420.2 412.8C422.32 407.33 424.48 402.02 426.6 396.9C428.72 391.78 430.78 386.15 432.9 382.1C435.02 378.05 436.83 374.97 439.3 372.6C441.77 370.23 445.07 368.08 447.7 367.9C450.33 367.72 452.8 369.3 455.1 371.5C457.4 373.7 459.38 377.03 461.5 381.1C463.62 385.17 465.68 390.62 467.8 395.9C469.92 401.18 472.07 406.8 474.2 412.8C476.33 418.8 478.48 425.37 480.6 431.9C482.72 438.43 484.95 446.17 486.9 452C488.85 457.83 490.28 462.47 492.3 466.9C494.32 471.33 496.77 475.12 499 478.6C501.23 482.08 503.18 485.05 505.7 487.8C508.22 490.55 512.7 493.88 514.1 495.1" fill="none" stroke="#000" stroke-width="2.25" stroke-dasharray="14.2 3.56 2.22 3.56" stroke-linejoin="round" clip-path="url(#clip_f)"/>
<path d="M62.5 168.1V169.9M96.5 168.1V169.9M113.5 168.1V169.9M130.5 168.1V169.9M164.5 168.1V169.9M181.5 168.1V169.9M198.5 168.1V169.9M232.5 168.1V169.9M249.5 168.1V169.9M266.5 168.1V169.9M44.7 162.81H46.5M44.7 156.62H46.5M44.7 150.43H46.5M44.7 138.04H46.5M44.7 131.85H46.5M44.7 125.66H46.5M44.7 113.28H46.5M44.7 107.08H46.5M44.7 100.89H46.5M44.7 88.51H46.5M44.7 82.32H46.5M44.7 76.12H46.5M44.7 63.74H46.5M44.7 57.55H46.5M44.7 51.36H46.5M44.7 38.98H46.5M44.7 32.78H46.5M44.7 26.59H46.5" stroke="#000" stroke-width="0.6" fill="none"/>
<path d="M79.5 167.2V170.8M147.5 167.2V170.8M215.5 167.2V170.8M43.8 20.4H47.4M43.8 45.17H47.4M43.8 69.93H47.4M43.8 94.7H47.4M43.8 119.47H47.4M43.8 144.23H47.4M43.8 169H47.4" stroke="#000" stroke-width="0.8" fill="none"/>
<rect x="45.6" y="20.4" width="224.4" height="148.6" fill="none" stroke="#000" stroke-width="0.89"/>
<text x="79.5" y="180.9" font-size="12.5" text-anchor="middle" textLength="7.5" lengthAdjust="spacingAndGlyphs">6</text>
<text x="147.5" y="180.9" font-size="12.5" text-anchor="middle" textLength="7.5" lengthAdjust="spacingAndGlyphs">8</text>
<text x="215.5" y="180.9" font-size="12.5" text-anchor="middle" textLength="15.01" lengthAdjust="spacingAndGlyphs">10</text>
<text x="42.3" y="24.6" font-size="12.5" text-anchor="end" textLength="15.01" lengthAdjust="spacingAndGlyphs">60</text>
<text x="42.3" y="49.37" font-size="12.5" text-anchor="end" textLength="15.01" lengthAdjust="spacingAndGlyphs">40</text>
<text x="42.3" y="74.13" font-size="12.5" text-anchor="end" textLength="15.01" lengthAdjust="spacingAndGlyphs">20</text>
<text x="42.3" y="98.9" font-size="12.5" text-anchor="end" textLength="7.5" lengthAdjust="spacingAndGlyphs">0</text>
<text x="42.3" y="123.67" font-size="12.5" text-anchor="end" textLength="24.9" lengthAdjust="spacingAndGlyphs">−20</text>
<text x="42.3" y="148.43" font-size="12.5" text-anchor="end" textLength="24.9" lengthAdjust="spacingAndGlyphs">−40</text>
<text x="42.3" y="173.2" font-size="12.5" text-anchor="end" textLength="24.9" lengthAdjust="spacingAndGlyphs">−60</text>
<path d="M62.5 338.5V340.3M96.5 338.5V340.3M113.5 338.5V340.3M130.5 338.5V340.3M164.5 338.5V340.3M181.5 338.5V340.3M198.5 338.5V340.3M232.5 338.5V340.3M249.5 338.5V340.3M266.5 338.5V340.3M44.7 333.21H46.5M44.7 327.02H46.5M44.7 320.84H46.5M44.7 308.46H46.5M44.7 302.27H46.5M44.7 296.09H46.5M44.7 283.71H46.5M44.7 277.52H46.5M44.7 271.34H46.5M44.7 258.96H46.5M44.7 252.77H46.5M44.7 246.59H46.5M44.7 234.21H46.5M44.7 228.02H46.5M44.7 221.84H46.5M44.7 209.46H46.5M44.7 203.27H46.5M44.7 197.09H46.5" stroke="#000" stroke-width="0.6" fill="none"/>
<path d="M79.5 337.6V341.2M147.5 337.6V341.2M215.5 337.6V341.2M43.8 190.9H47.4M43.8 215.65H47.4M43.8 240.4H47.4M43.8 265.15H47.4M43.8 289.9H47.4M43.8 314.65H47.4M43.8 339.4H47.4" stroke="#000" stroke-width="0.8" fill="none"/>
<rect x="45.6" y="190.9" width="224.4" height="148.5" fill="none" stroke="#000" stroke-width="0.89"/>
<text x="79.5" y="351.3" font-size="12.5" text-anchor="middle" textLength="7.5" lengthAdjust="spacingAndGlyphs">6</text>
<text x="147.5" y="351.3" font-size="12.5" text-anchor="middle" textLength="7.5" lengthAdjust="spacingAndGlyphs">8</text>
<text x="215.5" y="351.3" font-size="12.5" text-anchor="middle" textLength="15.01" lengthAdjust="spacingAndGlyphs">10</text>
<text x="42.3" y="195.1" font-size="12.5" text-anchor="end" textLength="15.01" lengthAdjust="spacingAndGlyphs">60</text>
<text x="42.3" y="219.85" font-size="12.5" text-anchor="end" textLength="15.01" lengthAdjust="spacingAndGlyphs">40</text>
<text x="42.3" y="244.6" font-size="12.5" text-anchor="end" textLength="15.01" lengthAdjust="spacingAndGlyphs">20</text>
<text x="42.3" y="269.35" font-size="12.5" text-anchor="end" textLength="7.5" lengthAdjust="spacingAndGlyphs">0</text>
<text x="42.3" y="294.1" font-size="12.5" text-anchor="end" textLength="24.9" lengthAdjust="spacingAndGlyphs">−20</text>
<text x="42.3" y="318.85" font-size="12.5" text-anchor="end" textLength="24.9" lengthAdjust="spacingAndGlyphs">−40</text>
<text x="42.3" y="343.6" font-size="12.5" text-anchor="end" textLength="24.9" lengthAdjust="spacingAndGlyphs">−60</text>
<path d="M62.5 509.1V510.9M96.5 509.1V510.9M113.5 509.1V510.9M130.5 509.1V510.9M164.5 509.1V510.9M181.5 509.1V510.9M198.5 509.1V510.9M232.5 509.1V510.9M249.5 509.1V510.9M266.5 509.1V510.9M44.7 503.81H46.5M44.7 497.62H46.5M44.7 491.43H46.5M44.7 479.04H46.5M44.7 472.85H46.5M44.7 466.66H46.5M44.7 454.27H46.5M44.7 448.08H46.5M44.7 441.89H46.5M44.7 429.51H46.5M44.7 423.32H46.5M44.7 417.12H46.5M44.7 404.74H46.5M44.7 398.55H46.5M44.7 392.36H46.5M44.7 379.97H46.5M44.7 373.78H46.5M44.7 367.59H46.5" stroke="#000" stroke-width="0.6" fill="none"/>
<path d="M79.5 508.2V511.8M147.5 508.2V511.8M215.5 508.2V511.8M43.8 361.4H47.4M43.8 386.17H47.4M43.8 410.93H47.4M43.8 435.7H47.4M43.8 460.47H47.4M43.8 485.23H47.4M43.8 510H47.4" stroke="#000" stroke-width="0.8" fill="none"/>
<rect x="45.6" y="361.4" width="224.4" height="148.6" fill="none" stroke="#000" stroke-width="0.89"/>
<text x="79.5" y="521.9" font-size="12.5" text-anchor="middle" textLength="7.5" lengthAdjust="spacingAndGlyphs">6</text>
<text x="147.5" y="521.9" font-size="12.5" text-anchor="middle" textLength="7.5" lengthAdjust="spacingAndGlyphs">8</text>
<text x="215.5" y="521.9" font-size="12.5" text-anchor="middle" textLength="15.01" lengthAdjust="spacingAndGlyphs">10</text>
<text x="42.3" y="365.6" font-size="12.5" text-anchor="end" textLength="15.01" lengthAdjust="spacingAndGlyphs">60</text>
<text x="42.3" y="390.37" font-size="12.5" text-anchor="end" textLength="15.01" lengthAdjust="spacingAndGlyphs">40</text>
<text x="42.3" y="415.13" font-size="12.5" text-anchor="end" textLength="15.01" lengthAdjust="spacingAndGlyphs">20</text>
<text x="42.3" y="439.9" font-size="12.5" text-anchor="end" textLength="7.5" lengthAdjust="spacingAndGlyphs">0</text>
<text x="42.3" y="464.67" font-size="12.5" text-anchor="end" textLength="24.9" lengthAdjust="spacingAndGlyphs">−20</text>
<text x="42.3" y="489.43" font-size="12.5" text-anchor="end" textLength="24.9" lengthAdjust="spacingAndGlyphs">−40</text>
<text x="42.3" y="514.2" font-size="12.5" text-anchor="end" textLength="24.9" lengthAdjust="spacingAndGlyphs">−60</text>
<path d="M322.81 168.1V169.9M333.12 168.1V169.9M343.43 168.1V169.9M364.05 168.1V169.9M374.36 168.1V169.9M384.67 168.1V169.9M405.29 168.1V169.9M415.6 168.1V169.9M425.91 168.1V169.9M446.53 168.1V169.9M456.84 168.1V169.9M467.15 168.1V169.9M487.77 168.1V169.9M498.08 168.1V169.9M508.39 168.1V169.9M301.8 26.04H303.6M301.8 31.5H303.6M301.8 36.97H303.6M301.8 42.44H303.6M301.8 53.36H303.6M301.8 58.83H303.6M301.8 64.3H303.6M301.8 69.76H303.6M301.8 80.69H303.6M301.8 86.16H303.6M301.8 91.62H303.6M301.8 97.09H303.6M301.8 108.01H303.6M301.8 113.48H303.6M301.8 118.94H303.6M301.8 124.41H303.6M301.8 135.34H303.6M301.8 140.81H303.6M301.8 146.27H303.6M301.8 151.73H303.6M301.8 162.66H303.6M301.8 168.13H303.6" stroke="#000" stroke-width="0.6" fill="none"/>
<path d="M312.5 167.2V170.8M353.74 167.2V170.8M394.98 167.2V170.8M436.22 167.2V170.8M477.46 167.2V170.8M518.7 167.2V170.8M300.9 20.57H304.5M300.9 47.9H304.5M300.9 75.22H304.5M300.9 102.55H304.5M300.9 129.88H304.5M300.9 157.2H304.5" stroke="#000" stroke-width="0.8" fill="none"/>
<rect x="302.7" y="20.4" width="224.3" height="148.6" fill="none" stroke="#000" stroke-width="0.89"/>
<text x="312.5" y="180.9" font-size="12.5" text-anchor="middle" textLength="18.76" lengthAdjust="spacingAndGlyphs">0.0</text>
<text x="353.74" y="180.9" font-size="12.5" text-anchor="middle" textLength="18.76" lengthAdjust="spacingAndGlyphs">0.2</text>
<text x="394.98" y="180.9" font-size="12.5" text-anchor="middle" textLength="18.76" lengthAdjust="spacingAndGlyphs">0.4</text>
<text x="436.22" y="180.9" font-size="12.5" text-anchor="middle" textLength="18.76" lengthAdjust="spacingAndGlyphs">0.6</text>
<text x="477.46" y="180.9" font-size="12.5" text-anchor="middle" textLength="18.76" lengthAdjust="spacingAndGlyphs">0.8</text>
<text x="518.7" y="180.9" font-size="12.5" text-anchor="middle" textLength="18.76" lengthAdjust="spacingAndGlyphs">1.0</text>
<text x="299.4" y="24.77" font-size="12.5" text-anchor="end" textLength="15.01" lengthAdjust="spacingAndGlyphs">10</text>
<text x="299.4" y="52.1" font-size="12.5" text-anchor="end" textLength="7.5" lengthAdjust="spacingAndGlyphs">0</text>
<text x="299.4" y="79.42" font-size="12.5" text-anchor="end" textLength="24.9" lengthAdjust="spacingAndGlyphs">−10</text>
<text x="299.4" y="106.75" font-size="12.5" text-anchor="end" textLength="24.9" lengthAdjust="spacingAndGlyphs">−20</text>
<text x="299.4" y="134.07" font-size="12.5" text-anchor="end" textLength="24.9" lengthAdjust="spacingAndGlyphs">−30</text>
<text x="299.4" y="161.4" font-size="12.5" text-anchor="end" textLength="24.9" lengthAdjust="spacingAndGlyphs">−40</text>
<path d="M322.81 338.5V340.3M333.12 338.5V340.3M343.43 338.5V340.3M364.05 338.5V340.3M374.36 338.5V340.3M384.67 338.5V340.3M405.29 338.5V340.3M415.6 338.5V340.3M425.91 338.5V340.3M446.53 338.5V340.3M456.84 338.5V340.3M467.15 338.5V340.3M487.77 338.5V340.3M498.08 338.5V340.3M508.39 338.5V340.3M301.8 201.64H303.6M301.8 210.18H303.6M301.8 218.72H303.6M301.8 227.26H303.6M301.8 244.34H303.6M301.8 252.88H303.6M301.8 261.42H303.6M301.8 269.96H303.6M301.8 287.04H303.6M301.8 295.58H303.6M301.8 304.12H303.6M301.8 312.66H303.6M301.8 329.74H303.6M301.8 338.28H303.6" stroke="#000" stroke-width="0.6" fill="none"/>
<path d="M312.5 337.6V341.2M353.74 337.6V341.2M394.98 337.6V341.2M436.22 337.6V341.2M477.46 337.6V341.2M518.7 337.6V341.2M300.9 193.1H304.5M300.9 235.8H304.5M300.9 278.5H304.5M300.9 321.2H304.5" stroke="#000" stroke-width="0.8" fill="none"/>
<rect x="302.7" y="190.9" width="224.3" height="148.5" fill="none" stroke="#000" stroke-width="0.89"/>
<text x="312.5" y="351.3" font-size="12.5" text-anchor="middle" textLength="18.76" lengthAdjust="spacingAndGlyphs">0.0</text>
<text x="353.74" y="351.3" font-size="12.5" text-anchor="middle" textLength="18.76" lengthAdjust="spacingAndGlyphs">0.2</text>
<text x="394.98" y="351.3" font-size="12.5" text-anchor="middle" textLength="18.76" lengthAdjust="spacingAndGlyphs">0.4</text>
<text x="436.22" y="351.3" font-size="12.5" text-anchor="middle" textLength="18.76" lengthAdjust="spacingAndGlyphs">0.6</text>
<text x="477.46" y="351.3" font-size="12.5" text-anchor="middle" textLength="18.76" lengthAdjust="spacingAndGlyphs">0.8</text>
<text x="518.7" y="351.3" font-size="12.5" text-anchor="middle" textLength="18.76" lengthAdjust="spacingAndGlyphs">1.0</text>
<text x="299.4" y="197.3" font-size="12.5" text-anchor="end" textLength="24.9" lengthAdjust="spacingAndGlyphs">−10</text>
<text x="299.4" y="240" font-size="12.5" text-anchor="end" textLength="24.9" lengthAdjust="spacingAndGlyphs">−20</text>
<text x="299.4" y="282.7" font-size="12.5" text-anchor="end" textLength="24.9" lengthAdjust="spacingAndGlyphs">−30</text>
<text x="299.4" y="325.4" font-size="12.5" text-anchor="end" textLength="24.9" lengthAdjust="spacingAndGlyphs">−40</text>
<path d="M322.81 509.1V510.9M333.12 509.1V510.9M343.43 509.1V510.9M364.05 509.1V510.9M374.36 509.1V510.9M384.67 509.1V510.9M405.29 509.1V510.9M415.6 509.1V510.9M425.91 509.1V510.9M446.53 509.1V510.9M456.84 509.1V510.9M467.15 509.1V510.9M487.77 509.1V510.9M498.08 509.1V510.9M508.39 509.1V510.9M301.8 370.23H303.6M301.8 392.98H303.6M301.8 404.35H303.6M301.8 415.73H303.6M301.8 438.48H303.6M301.8 449.85H303.6M301.8 461.23H303.6M301.8 483.98H303.6M301.8 495.35H303.6M301.8 506.73H303.6" stroke="#000" stroke-width="0.6" fill="none"/>
<path d="M312.5 508.2V511.8M353.74 508.2V511.8M394.98 508.2V511.8M436.22 508.2V511.8M477.46 508.2V511.8M518.7 508.2V511.8M300.9 381.6H304.5M300.9 427.1H304.5M300.9 472.6H304.5" stroke="#000" stroke-width="0.8" fill="none"/>
<rect x="302.7" y="361.4" width="224.3" height="148.6" fill="none" stroke="#000" stroke-width="0.89"/>
<text x="312.5" y="521.9" font-size="12.5" text-anchor="middle" textLength="18.76" lengthAdjust="spacingAndGlyphs">0.0</text>
<text x="353.74" y="521.9" font-size="12.5" text-anchor="middle" textLength="18.76" lengthAdjust="spacingAndGlyphs">0.2</text>
<text x="394.98" y="521.9" font-size="12.5" text-anchor="middle" textLength="18.76" lengthAdjust="spacingAndGlyphs">0.4</text>
<text x="436.22" y="521.9" font-size="12.5" text-anchor="middle" textLength="18.76" lengthAdjust="spacingAndGlyphs">0.6</text>
<text x="477.46" y="521.9" font-size="12.5" text-anchor="middle" textLength="18.76" lengthAdjust="spacingAndGlyphs">0.8</text>
<text x="518.7" y="521.9" font-size="12.5" text-anchor="middle" textLength="18.76" lengthAdjust="spacingAndGlyphs">1.0</text>
<text x="299.4" y="385.8" font-size="12.5" text-anchor="end" textLength="7.5" lengthAdjust="spacingAndGlyphs">0</text>
<text x="299.4" y="431.3" font-size="12.5" text-anchor="end" textLength="24.9" lengthAdjust="spacingAndGlyphs">−20</text>
<text x="299.4" y="476.8" font-size="12.5" text-anchor="end" textLength="24.9" lengthAdjust="spacingAndGlyphs">−40</text>
<text x="-0.1" y="15.7" font-size="21.5" textLength="27" lengthAdjust="spacingAndGlyphs"><tspan font-size="19.2" dy="-1.4">(</tspan><tspan dy="1.4">a</tspan><tspan font-size="19.2" dy="-1.4">)</tspan></text>
<text x="260.6" y="15.3" font-size="21.5" textLength="27.6" lengthAdjust="spacingAndGlyphs"><tspan font-size="19.2" dy="-1.4">(</tspan><tspan dy="1.4">b</tspan><tspan font-size="19.2" dy="-1.4">)</tspan></text>
<text x="1.4" y="186.2" font-size="21.5" textLength="25.5" lengthAdjust="spacingAndGlyphs"><tspan font-size="19.2" dy="-1.4">(</tspan><tspan dy="1.4">c</tspan><tspan font-size="19.2" dy="-1.4">)</tspan></text>
<text x="265.4" y="183.8" font-size="21.5" textLength="27.2" lengthAdjust="spacingAndGlyphs"><tspan font-size="19.2" dy="-1.4">(</tspan><tspan dy="1.4">d</tspan><tspan font-size="19.2" dy="-1.4">)</tspan></text>
<text x="-0.8" y="356.5" font-size="21.5" textLength="27" lengthAdjust="spacingAndGlyphs"><tspan font-size="19.2" dy="-1.4">(</tspan><tspan dy="1.4">e</tspan><tspan font-size="19.2" dy="-1.4">)</tspan></text>
<text x="270.3" y="355.1" font-size="21.5" textLength="21.9" lengthAdjust="spacingAndGlyphs"><tspan font-size="19.2" dy="-1.4">(</tspan><tspan dy="1.4">f</tspan><tspan font-size="19.2" dy="-1.4">)</tspan></text>
<text x="0" y="0" font-size="12" text-anchor="middle" textLength="87.7" lengthAdjust="spacingAndGlyphs" transform="translate(14.2 94.7) rotate(-90)">ΔE (meV/atom)</text>
<text x="0" y="0" font-size="12" text-anchor="middle" textLength="87.7" lengthAdjust="spacingAndGlyphs" transform="translate(14.2 265.15) rotate(-90)">ΔE (meV/atom)</text>
<text x="0" y="0" font-size="12" text-anchor="middle" textLength="87.7" lengthAdjust="spacingAndGlyphs" transform="translate(14.2 435.7) rotate(-90)">ΔE (meV/atom)</text>
<text x="140.4" y="535.9" font-size="12.3" font-style="italic">d<tspan font-size="8.6" dy="1.6">M</tspan><tspan dy="-1.6"> (Å)</tspan></text>
<text x="413.0" y="534.6" font-size="13" font-style="italic">δ</text>
<path d="M96.1 35.6H117.4" stroke="#1f77b4" stroke-width="3.3"/>
<path d="M183.3 35.6H204.1" stroke="#ff7f0e" stroke-width="3.3"/>
<path d="M97.8 52.8H111.9M114.9 52.8H116.0" stroke="#000" stroke-width="2.25"/>
<path d="M185 52.8H199.1M201.9 52.8H203.0" stroke="#000" stroke-width="2.25"/>
<text x="125.3" y="39.8" font-size="12.5" textLength="48" lengthAdjust="spacingAndGlyphs">NNP, AA</text>
<text x="212" y="39.8" font-size="12.5" textLength="47.2" lengthAdjust="spacingAndGlyphs">NNP, AB</text>
<text x="125.3" y="56.8" font-size="12.5" textLength="45.8" lengthAdjust="spacingAndGlyphs">DFT, AA</text>
<text x="212" y="56.8" font-size="12.5" textLength="45.8" lengthAdjust="spacingAndGlyphs">DFT, AB</text>
<circle cx="532.2" cy="13.6" r="5.75" fill="#ffd700"/>
<text x="542" y="19.6" font-size="20">S</text>
<circle cx="567.5" cy="13.6" r="5.75" fill="#00e400"/>
<text x="574.5" y="19.6" font-size="20">Se</text>
<circle cx="610.3" cy="13.6" r="5.75" fill="#a07800"/>
<text x="614.4" y="19.6" font-size="20">Te</text>
<circle cx="648.2" cy="13.6" r="6.7" fill="#9000b0"/>
<text x="656" y="19.6" font-size="20">Mo</text>
<path d="M556.85 72.45L559.8 69.62M556.55 82.44L560.06 86.22M568.65 69.57L571.79 72.51M568.4 86.27L572.08 82.38M581.91 72.41L584.73 69.66M581.61 82.48L584.99 86.19" stroke="#000" stroke-width="3.9" stroke-linecap="round" fill="none"/>
<circle cx="551.8" cy="77.3" r="5.4" fill="#9000b0" stroke="#fff" stroke-width="0.6"/>
<circle cx="576.9" cy="77.3" r="5.4" fill="#9000b0" stroke="#fff" stroke-width="0.6"/>
<circle cx="564.2" cy="65.4" r="4.5" fill="#ffd700" stroke="#fff" stroke-width="0.6"/>
<circle cx="564.2" cy="90.7" r="4.5" fill="#ffd700" stroke="#fff" stroke-width="0.6"/>
<circle cx="589.1" cy="65.4" r="4.5" fill="#ffd700" stroke="#fff" stroke-width="0.6"/>
<circle cx="589.1" cy="90.7" r="4.5" fill="#ffd700" stroke="#fff" stroke-width="0.6"/>
<text x="601.6" y="81.7" font-size="20.6">MoS<tspan font-size="14.5" dy="4.2">2</tspan></text>
<path d="M557.35 117.05L560.3 114.22M557.05 127.04L560.56 130.82M569.15 114.17L572.29 117.11M568.9 130.87L572.58 126.98M582.41 117.01L585.23 114.26M582.11 127.08L585.49 130.79" stroke="#000" stroke-width="3.9" stroke-linecap="round" fill="none"/>
<circle cx="552.3" cy="121.9" r="5.4" fill="#9000b0" stroke="#fff" stroke-width="0.6"/>
<circle cx="577.4" cy="121.9" r="5.4" fill="#9000b0" stroke="#fff" stroke-width="0.6"/>
<circle cx="564.7" cy="110" r="4.5" fill="#ffd700" stroke="#fff" stroke-width="0.6"/>
<circle cx="564.7" cy="135.3" r="4.5" fill="#ffd700" stroke="#fff" stroke-width="0.6"/>
<circle cx="589.6" cy="110" r="4.5" fill="#ffd700" stroke="#fff" stroke-width="0.6"/>
<circle cx="589.6" cy="135.3" r="4.5" fill="#ffd700" stroke="#fff" stroke-width="0.6"/>
<text x="601.8" y="128.6" font-size="20.6">MoS<tspan font-size="14.5" dy="4.2">2</tspan></text>
<path d="M560.35 240.35L563.3 237.52M560.05 250.34L563.56 254.12M572.15 237.47L575.29 240.41M571.9 254.17L575.58 250.28M585.41 240.31L588.23 237.56M585.11 250.38L588.49 254.09" stroke="#000" stroke-width="3.9" stroke-linecap="round" fill="none"/>
<circle cx="555.3" cy="245.2" r="5.4" fill="#9000b0" stroke="#fff" stroke-width="0.6"/>
<circle cx="580.4" cy="245.2" r="5.4" fill="#9000b0" stroke="#fff" stroke-width="0.6"/>
<circle cx="567.7" cy="233.3" r="4.5" fill="#00e400" stroke="#fff" stroke-width="0.6"/>
<circle cx="567.7" cy="258.6" r="4.5" fill="#00e400" stroke="#fff" stroke-width="0.6"/>
<circle cx="592.6" cy="233.3" r="4.5" fill="#00e400" stroke="#fff" stroke-width="0.6"/>
<circle cx="592.6" cy="258.6" r="4.5" fill="#00e400" stroke="#fff" stroke-width="0.6"/>
<text x="609.4" y="248.4" font-size="20.6">MoSe<tspan font-size="14.5" dy="4.2">2</tspan></text>
<path d="M559.25 283.85L562.2 281.02M558.95 293.84L562.46 297.62M571.05 280.97L574.19 283.91M570.8 297.67L574.48 293.78M584.31 283.81L587.13 281.06M584.01 293.88L587.39 297.59" stroke="#000" stroke-width="3.9" stroke-linecap="round" fill="none"/>
<circle cx="554.2" cy="288.7" r="5.4" fill="#9000b0" stroke="#fff" stroke-width="0.6"/>
<circle cx="579.3" cy="288.7" r="5.4" fill="#9000b0" stroke="#fff" stroke-width="0.6"/>
<circle cx="566.6" cy="276.8" r="4.5" fill="#00e400" stroke="#fff" stroke-width="0.6"/>
<circle cx="566.6" cy="302.1" r="4.5" fill="#00e400" stroke="#fff" stroke-width="0.6"/>
<circle cx="591.5" cy="276.8" r="4.5" fill="#00e400" stroke="#fff" stroke-width="0.6"/>
<circle cx="591.5" cy="302.1" r="4.5" fill="#00e400" stroke="#fff" stroke-width="0.6"/>
<text x="609.4" y="295.2" font-size="20.6">MoSe<tspan font-size="14.5" dy="4.2">2</tspan></text>
<path d="M559.05 406.75L562 403.92M558.75 416.74L562.26 420.52M570.85 403.87L573.99 406.81M570.6 420.57L574.28 416.68M584.11 406.71L586.93 403.96M583.81 416.78L587.19 420.49" stroke="#000" stroke-width="3.9" stroke-linecap="round" fill="none"/>
<circle cx="554" cy="411.6" r="5.4" fill="#9000b0" stroke="#fff" stroke-width="0.6"/>
<circle cx="579.1" cy="411.6" r="5.4" fill="#9000b0" stroke="#fff" stroke-width="0.6"/>
<circle cx="566.4" cy="399.7" r="4.5" fill="#a07800" stroke="#fff" stroke-width="0.6"/>
<circle cx="566.4" cy="425" r="4.5" fill="#a07800" stroke="#fff" stroke-width="0.6"/>
<circle cx="591.3" cy="399.7" r="4.5" fill="#a07800" stroke="#fff" stroke-width="0.6"/>
<circle cx="591.3" cy="425" r="4.5" fill="#a07800" stroke="#fff" stroke-width="0.6"/>
<text x="611.6" y="411.4" font-size="20.6">MoTe<tspan font-size="14.5" dy="4.2">2</tspan></text>
<path d="M558.35 448.45L561.3 445.62M558.05 458.44L561.56 462.22M570.15 445.57L573.29 448.51M569.9 462.27L573.58 458.38M583.41 448.41L586.23 445.66M583.11 458.48L586.49 462.19" stroke="#000" stroke-width="3.9" stroke-linecap="round" fill="none"/>
<circle cx="553.3" cy="453.3" r="5.4" fill="#9000b0" stroke="#fff" stroke-width="0.6"/>
<circle cx="578.4" cy="453.3" r="5.4" fill="#9000b0" stroke="#fff" stroke-width="0.6"/>
<circle cx="565.7" cy="441.4" r="4.5" fill="#a07800" stroke="#fff" stroke-width="0.6"/>
<circle cx="565.7" cy="466.7" r="4.5" fill="#a07800" stroke="#fff" stroke-width="0.6"/>
<circle cx="590.6" cy="441.4" r="4.5" fill="#a07800" stroke="#fff" stroke-width="0.6"/>
<circle cx="590.6" cy="466.7" r="4.5" fill="#a07800" stroke="#fff" stroke-width="0.6"/>
<text x="612.1" y="457.9" font-size="20.6">MoTe<tspan font-size="14.5" dy="4.2">2</tspan></text>
</svg>
</body></html>
